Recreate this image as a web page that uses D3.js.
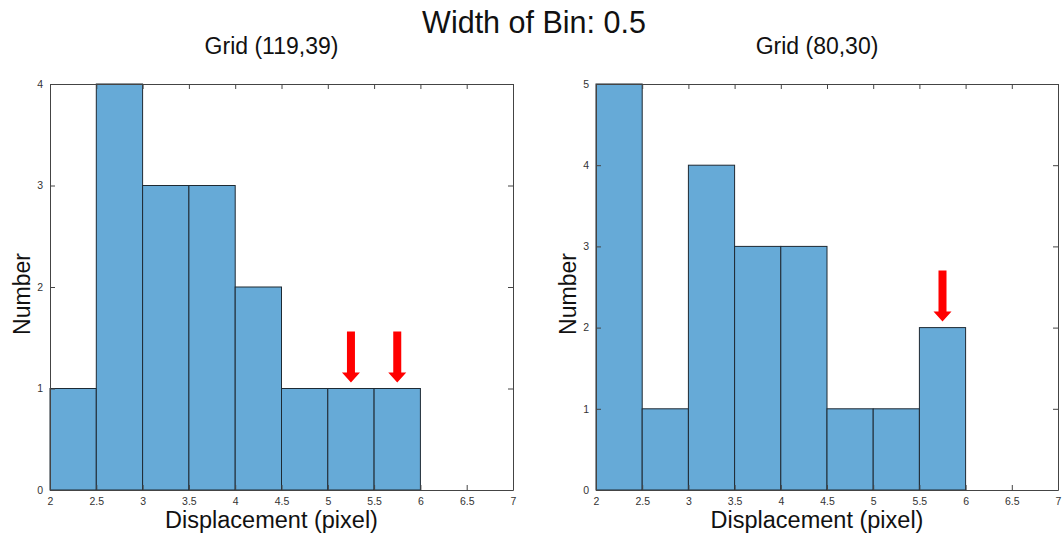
<!DOCTYPE html>
<html>
<head>
<meta charset="utf-8">
<script src="https://cdn.jsdelivr.net/npm/d3@7"></script>
<style>
  body { margin: 0; background: #fff; }
  svg { font-family: "Liberation Sans", Arial, sans-serif; }
</style>
</head>
<body>
<svg id="chart" width="1062" height="539"></svg>
<script>
// bin edges shared by both histograms
const binEdges = [2, 2.5, 3, 3.5, 4, 4.5, 5, 5.5, 6];
const xTicks = [2, 2.5, 3, 3.5, 4, 4.5, 5, 5.5, 6, 6.5, 7];

// counts per bin
const leftCounts = [1, 4, 3, 3, 2, 1, 1, 1];
const rightCounts = [5, 1, 4, 3, 3, 1, 1, 2];

// arrow positions (x value)
const leftArrows = [5.25, 5.75];
const rightArrows = [5.75];

const panels = [
  { title: "Grid (119,39)", counts: leftCounts, arrows: leftArrows, yMax: 4, x0: 50, x1: 513 },
  { title: "Grid (80,30)", counts: rightCounts, arrows: rightArrows, yMax: 5, x0: 596, x1: 1058 }
];

const plotTop = 84, plotBottom = 490;
const svg = d3.select("#chart");

svg.append("text")
  .attr("x", 534).attr("y", 33)
  .attr("text-anchor", "middle")
  .attr("font-size", 30.5)
  .attr("fill", "#111")
  .text("Width of Bin: 0.5");

panels.forEach(p => {
  const x = d3.scaleLinear().domain([2, 7]).range([p.x0, p.x1]);
  const y = d3.scaleLinear().domain([0, p.yMax]).range([plotBottom, plotTop]);
  const g = svg.append("g");

  const bins = p.counts.map((c, i) => ({ lo: binEdges[i], hi: binEdges[i + 1], c }));

  g.selectAll("rect.bar")
    .data(bins)
    .enter().append("rect")
    .attr("class", "bar")
    .attr("x", d => x(d.lo))
    .attr("y", d => y(d.c))
    .attr("width", d => x(d.hi) - x(d.lo))
    .attr("height", d => y(0) - y(d.c))
    .attr("fill", "#66aad7")
    .attr("stroke", "#1e2a33")
    .attr("stroke-width", 1);

  // axes with inward ticks, box style
  const tickCol = "#444";
  const bx = g.append("g").attr("transform", `translate(0,${plotBottom})`)
    .call(d3.axisBottom(x).tickValues(xTicks).tickSizeInner(-5).tickSizeOuter(0).tickPadding(8).tickFormat(d3.format("~g")));
  const tx = g.append("g").attr("transform", `translate(0,${plotTop})`)
    .call(d3.axisTop(x).tickValues(xTicks).tickSizeInner(-5).tickSizeOuter(0).tickFormat(""));
  const ly = g.append("g").attr("transform", `translate(${p.x0},0)`)
    .call(d3.axisLeft(y).ticks(p.yMax).tickSizeInner(-5).tickSizeOuter(0).tickPadding(7).tickFormat(d3.format("d")));
  const ry = g.append("g").attr("transform", `translate(${p.x1},0)`)
    .call(d3.axisRight(y).ticks(p.yMax).tickSizeInner(-5).tickSizeOuter(0).tickFormat(""));

  [bx, tx, ly, ry].forEach(a => {
    a.select(".domain").attr("stroke", tickCol);
    a.selectAll(".tick line").attr("stroke", tickCol);
    a.selectAll(".tick text").attr("fill", "#333").attr("font-size", 10.5)
      .attr("font-family", "Liberation Sans, Arial, sans-serif");
  });

  // arrows
  p.arrows.forEach(ax => {
    const binIdx = binEdges.findIndex((e, i) => ax >= e && ax < binEdges[i + 1]);
    const tipY = y(p.counts[binIdx]) - 6;
    const cx = x(ax);
    const len = 51, headH = 10, headW = 9, shaftW = 4;
    const pts = [
      [cx - shaftW, tipY - len], [cx + shaftW, tipY - len],
      [cx + shaftW, tipY - headH], [cx + headW, tipY - headH],
      [cx, tipY], [cx - headW, tipY - headH],
      [cx - shaftW, tipY - headH]
    ];
    g.append("polygon")
      .attr("points", pts.map(q => q.join(",")).join(" "))
      .attr("fill", "#ff0000");
  });

  const mid = (p.x0 + p.x1) / 2;
  g.append("text")
    .attr("x", mid - 10).attr("y", 54)
    .attr("text-anchor", "middle")
    .attr("font-size", 23).attr("fill", "#111")
    .text(p.title);

  g.append("text")
    .attr("x", mid - 10).attr("y", 528)
    .attr("text-anchor", "middle")
    .attr("font-size", 23.5).attr("fill", "#111")
    .text("Displacement (pixel)");

  g.append("text")
    .attr("transform", `translate(${p.x0 - 20},294) rotate(-90)`)
    .attr("text-anchor", "middle")
    .attr("font-size", 23).attr("fill", "#111")
    .text("Number");
});
</script>
</body>
</html>
